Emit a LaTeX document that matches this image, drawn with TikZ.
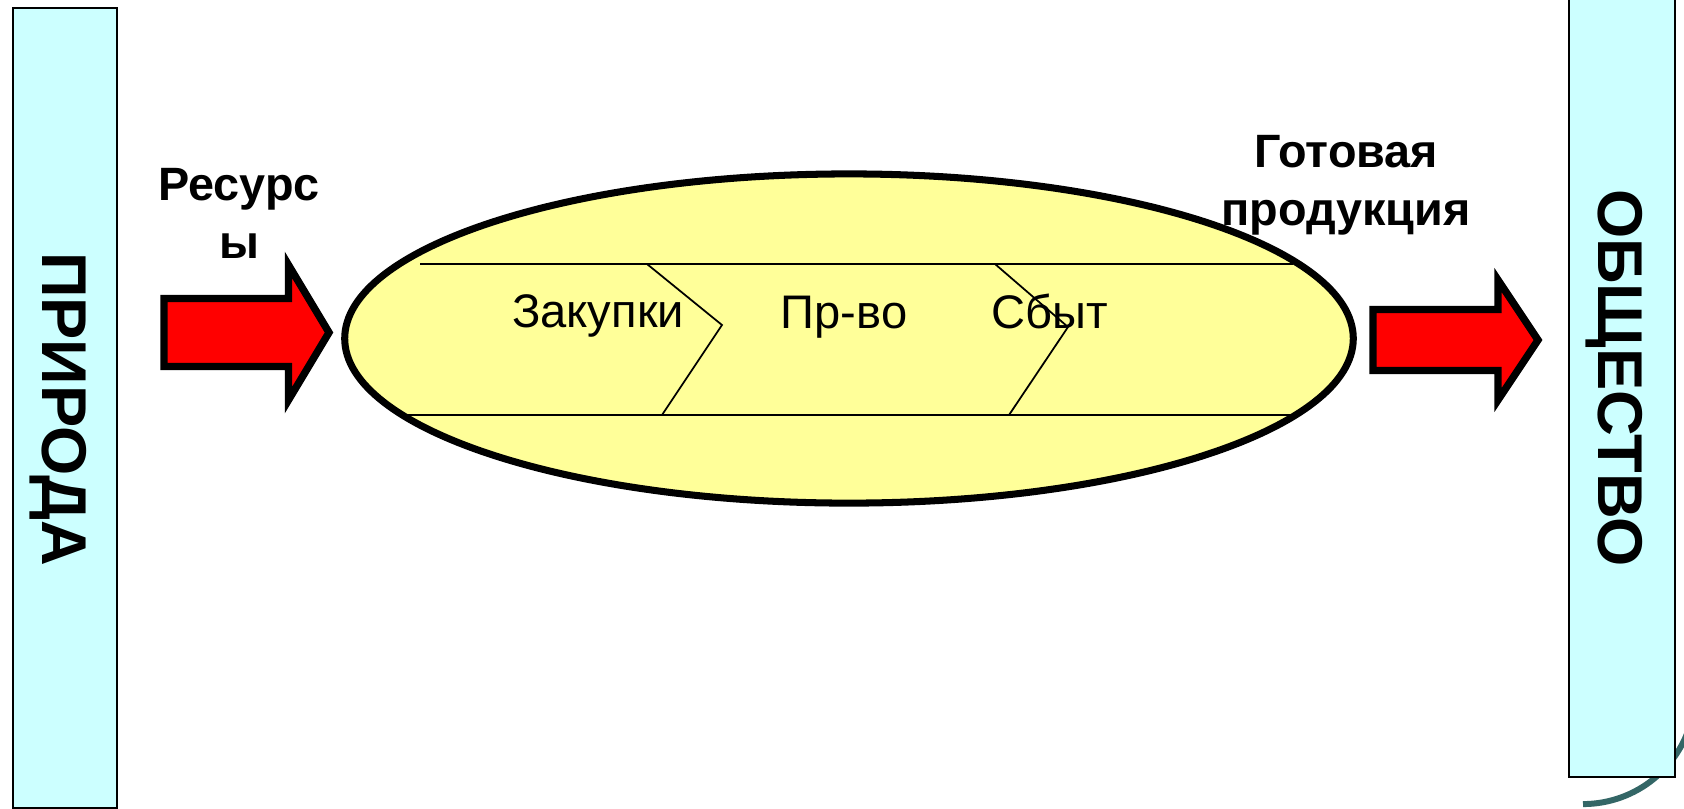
\documentclass[tikz,border=0pt]{standalone}
\usepackage{fontspec}
\setmainfont{Liberation Sans}
\usetikzlibrary{shapes.geometric}
\definecolor{sidecyan}{HTML}{CCFFFF}
\definecolor{ovalyellow}{HTML}{FFFF99}
\definecolor{arcteal}{HTML}{336666}
\tikzset{sidebox/.style={draw=black, line width=0.6pt, fill=sidecyan, inner sep=0pt},
sidelabel/.style={font=\fontsize{18pt}{22pt}\selectfont\bfseries, rotate=-90, anchor=base, inner sep=0pt},
ovalnode/.style={ellipse, draw=black, line width=2pt, fill=ovalyellow, minimum width=10.08cm, minimum height=3.29cm, inner sep=0pt},
flowlabel/.style={font=\fontsize{13.3pt}{16.5pt}\selectfont\bfseries, align=center, anchor=north, inner sep=0pt},
steplabel/.style={font=\fontsize{13.4pt}{16pt}\selectfont, anchor=base, inner sep=0pt},
stepline/.style={line width=0.5pt},
bigarrow/.style={draw=black, line width=2.1pt, fill=red, line join=miter},}

\begin{document}
\begin{tikzpicture}[x=0.01cm, y=-0.01cm]
\useasboundingbox (0,0) rectangle (1684,808);
\draw[arcteal, line width=1.7pt] (1583,692) ++(10:1.12cm) arc[start angle=10, end angle=-90, radius=1.12cm];
\node[sidebox, minimum width=1.04cm, minimum height=8cm] (nature) at (65,408) {};
\node[sidebox, minimum width=1.06cm, minimum height=7.87cm] (society) at (1622,383.5) {};
\node[sidelabel] (naturelbl) at (42,409) {ПРИРОДА};
\node[sidelabel] (societylbl) at (1598,378) {ОБЩЕСТВО};
\node[ovalnode] (firm) at (849,338.5) {};
\draw[stepline] (420,264) -- (1293,264);
\draw[stepline] (408,415) -- (1293,415);
\foreach \a/\b/\c/\t in {647/722/662/325, 995/1068/1009/327}
  \draw[stepline] (\a,264) -- (\b,\t) -- (\c,415);
\node[steplabel] (buy) at (598,327) {Закупки};
\node[steplabel] (make) at (844,328) {Пр-во};
\node[steplabel] (sell) at (1050,328) {Сбыт};
\node[flowlabel] (resin) at (239,168) {Ресурс\\ы};
\node[flowlabel] (prodout) at (1346,135) {Готовая\\продукция};
\draw[bigarrow] (164,298.5) -- (288.5,298.5) -- (288.5,265) -- (329,332.5) -- (288.5,400) -- (288.5,366.5) -- (164,366.5) -- cycle;
\draw[bigarrow] (1373,309.5) -- (1498,309.5) -- (1498,280) -- (1538,340) -- (1498,400) -- (1498,370.5) -- (1373,370.5) -- cycle;
\end{tikzpicture}
\end{document}
